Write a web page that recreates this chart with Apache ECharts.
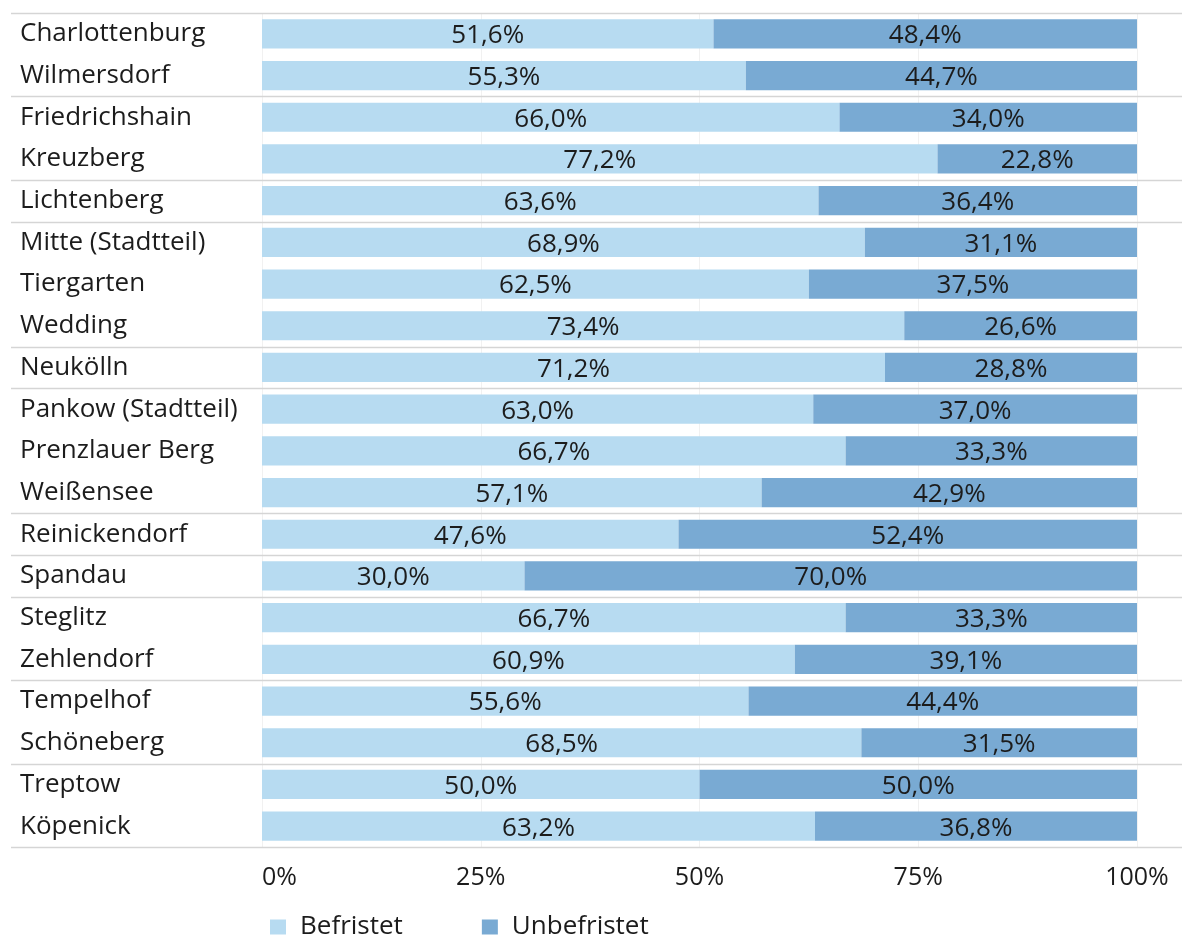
<!DOCTYPE html>
<html>
<head>
<meta charset="utf-8">
<script src="https://cdn.jsdelivr.net/npm/echarts@6/dist/echarts.min.js"></script>
<style>
  html, body { margin: 0; padding: 0; background: #ffffff; }
  #chart { width: 1182px; height: 939px; }
</style>
</head>
<body>
<div id="chart"></div>
<script>
// Berliner Ortsteile, top to bottom
const districts = [
  'Charlottenburg', 'Wilmersdorf', 'Friedrichshain', 'Kreuzberg', 'Lichtenberg',
  'Mitte (Stadtteil)', 'Tiergarten', 'Wedding', 'Neukölln', 'Pankow (Stadtteil)',
  'Prenzlauer Berg', 'Weißensee', 'Reinickendorf', 'Spandau', 'Steglitz',
  'Zehlendorf', 'Tempelhof', 'Schöneberg', 'Treptow', 'Köpenick'
];
// Share of fixed-term contracts (%)
const befristet = [51.6, 55.3, 66.0, 77.2, 63.6, 68.9, 62.5, 73.4, 71.2, 63.0,
                   66.7, 57.1, 47.6, 30.0, 66.7, 60.9, 55.6, 68.5, 50.0, 63.2];
// Share of permanent contracts (%)
const unbefristet = [48.4, 44.7, 34.0, 22.8, 36.4, 31.1, 37.5, 26.6, 28.8, 37.0,
                     33.3, 42.9, 52.4, 70.0, 33.3, 39.1, 44.4, 31.5, 50.0, 36.8];
// Index of the first district in each former borough
const groupStarts = [0, 2, 4, 5, 8, 9, 12, 13, 14, 16, 18];
const xTicks = [0, 25, 50, 75, 100];

const FONT = '"Open Sans", Lato, sans-serif';
const TEXT = '#1c1c1c';
const fmt = v => v.toFixed(1).replace('.', ',') + '%';

const chart = echarts.init(document.getElementById('chart'));

const labelStyle = {
  show: true,
  position: 'inside',
  offset: [0, 2],
  formatter: p => fmt(p.value),
  fontFamily: FONT,
  fontSize: 26,
  color: TEXT
};

chart.setOption({
  animation: false,
  backgroundColor: '#ffffff',
  grid: { left: 262, right: 45, top: 13, bottom: 92, containLabel: false },
  xAxis: {
    type: 'value',
    min: xTicks[0],
    max: xTicks[xTicks.length - 1],
    interval: 25,
    axisLine: { show: false },
    axisTick: { show: false },
    splitLine: { show: true, lineStyle: { color: '#f1f1f1', width: 1 } },
    axisLabel: {
      formatter: '{value}%',
      fontFamily: FONT,
      fontSize: 25,
      color: TEXT,
      margin: 18,
      alignMinLabel: 'left'
    }
  },
  yAxis: {
    type: 'category',
    data: districts,
    inverse: true,
    axisLine: { show: false },
    axisTick: { show: false },
    splitLine: { show: false },
    axisLabel: {
      align: 'left',
      margin: 242,
      padding: [4, 0, 0, 0],
      fontFamily: FONT,
      fontSize: 26,
      color: TEXT
    }
  },
  legend: {
    left: 265,
    top: 909,
    icon: 'rect',
    itemWidth: 16,
    itemHeight: 15,
    itemGap: 79,
    textStyle: { fontFamily: FONT, fontSize: 26, color: TEXT, padding: [0, 0, 0, 9] },
    data: ['Befristet', 'Unbefristet']
  },
  series: [
    {
      name: 'Befristet',
      type: 'bar',
      stack: 'total',
      barCategoryGap: '30%',
      data: befristet,
      itemStyle: { color: '#b7dbf1' },
      label: labelStyle
    },
    {
      name: 'Unbefristet',
      type: 'bar',
      stack: 'total',
      barCategoryGap: '30%',
      data: unbefristet,
      itemStyle: { color: '#79aad3' },
      label: labelStyle
    }
  ]
});

// Horizontal rules between the former boroughs, placed from the category scale
function drawRules() {
  const c0 = chart.convertToPixel({ yAxisIndex: 0 }, districts[0]);
  const c1 = chart.convertToPixel({ yAxisIndex: 0 }, districts[1]);
  const step = c1 - c0;
  const bounds = groupStarts.concat([districts.length]);
  const elements = bounds.map(i => {
    const y = Math.round(c0 + (i - 0.5) * step) + 0.5;
    return {
      type: 'line',
      silent: true,
      z: 0,
      shape: { x1: 11, y1: y, x2: 1182, y2: y },
      style: { stroke: '#d5d5d5', lineWidth: 1.5 }
    };
  });
  chart.setOption({ graphic: elements });
}
drawRules();
</script>
</body>
</html>
